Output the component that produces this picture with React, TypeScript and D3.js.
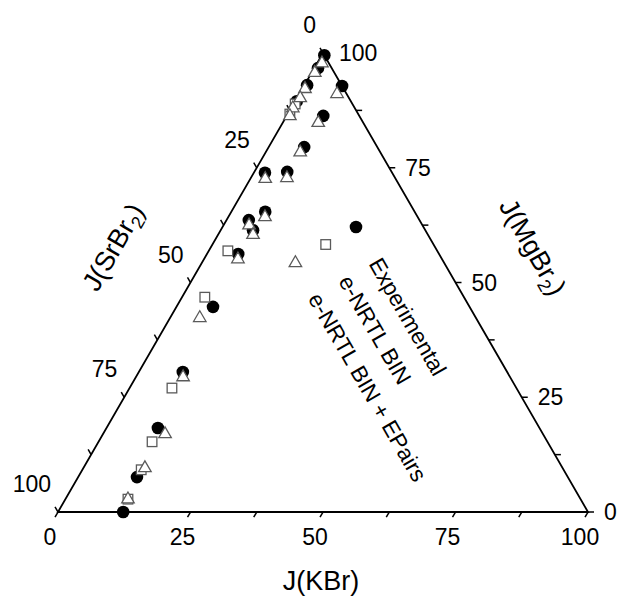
import React from 'react';
import * as d3 from 'd3';

// ternary points as [J(KBr), J(MgBr2)]; J(SrBr2) = 100 - both
const experimental: [number, number][] = [
  [0.5, 99.5], [0.7, 96.7], [0.5, 93.0], [0.3, 89.5], [7.2, 92.8], [6.9, 86.3],
  [6.7, 79.5], [6.2, 74.1], [2.1, 73.9], [6.4, 65.4], [4.2, 63.6], [6.1, 61.4],
  [5.9, 56.2], [6.9, 44.7], [8.3, 30.5], [9.7, 18.3], [11.1, 7.6], [12.3, 0],
];
const nrtlBin: [number, number][] = [
  [0.3, 88.9], [0.4, 86.7], [3.6, 56.9], [4.3, 46.8], [8.0, 27.0], [10.1, 15.3],
  [11.1, 9.2], [11.8, 2.8],
];
const nrtlEPairs: [number, number][] = [
  [0.8, 98.0], [0.5, 95.9], [0.4, 92.4], [0.5, 90.4], [0.2, 88.2], [0.5, 86.5],
  [7.0, 91.3], [6.6, 85.0], [6.4, 78.6], [6.7, 73.0], [2.7, 72.8], [6.8, 64.5],
  [4.7, 62.7], [6.5, 60.6], [6.3, 55.3], [5.5, 42.5], [8.8, 29.6], [11.6, 17.2],
  [11.5, 9.8], [11.7, 3.0],
];
const tickValues = d3.range(0, 100.01, 12.5);
const labelValues = [0, 25, 50, 75, 100];
const legendNames = ['Experimental', 'e-NRTL BIN', 'e-NRTL BIN + EPairs'];

const W = 619;
const H = 598;
const left = 58;
const base = 512;
const side = d3.scaleLinear().domain([0, 100]).range([0, 530]);
const h = Math.sqrt(3) / 2;

const toXY = (k: number, m: number): [number, number] => [
  left + side(k + m / 2),
  base - side(m) * h,
];

const FONT = 'Liberation Sans, Arial, Helvetica, sans-serif';
const grey = '#5a5a5a';
const tickLen = 6;

const triPath = (s: number) => {
  const r = s / Math.sqrt(3);
  return `M0,${-r}L${s / 2},${r / 2}L${-s / 2},${r / 2}Z`;
};

function Marker({ kind }: { kind: number }) {
  if (kind === 0) return <circle r={6.3} fill="#000" />;
  if (kind === 1)
    return <rect x={-4.8} y={-4.8} width={9.6} height={9.6} fill="#fff" stroke={grey} strokeWidth={1.3} />;
  return <path d={triPath(12.5)} transform="translate(0,1)" fill="#fff" stroke={grey} strokeWidth={1.3} />;
}

export default function App() {
  const top = toXY(0, 100);
  const bl = toXY(0, 0);
  const br = toXY(100, 0);

  const ticks: JSX.Element[] = [];
  tickValues.forEach((v, i) => {
    const [bx, by] = toXY(v, 0);
    ticks.push(<line key={`b${i}`} x1={bx} y1={by} x2={bx - tickLen * 0.5} y2={by + tickLen * h} />);
    const [rx, ry] = toXY(100 - v, v);
    ticks.push(<line key={`r${i}`} x1={rx} y1={ry} x2={rx + tickLen} y2={ry} />);
    const [lx, ly] = toXY(0, 100 - v);
    ticks.push(<line key={`l${i}`} x1={lx} y1={ly} x2={lx - tickLen * 0.5} y2={ly - tickLen * h} />);
  });

  const series = [experimental, nrtlBin, nrtlEPairs];

  return (
    <svg width={W} height={H} style={{ position: 'absolute', left: 0, top: 0, background: '#fff' }}
      fontFamily={FONT}>
      <rect width={W} height={H} fill="#fff" />
      <path d={`M${bl[0]},${bl[1]}L${br[0]},${br[1]}L${top[0]},${top[1]}Z`}
        fill="none" stroke="#000" strokeWidth={1.8} strokeLinejoin="miter" />
      <g stroke="#000" strokeWidth={1.5}>{ticks}</g>

      <g fontSize={23} fill="#000">
        {labelValues.map((v) => {
          const [bx, by] = toXY(v, 0);
          return <text key={`bl${v}`} x={bx - 8} y={by + 33} textAnchor="middle">{v}</text>;
        })}
        {labelValues.map((v) => {
          const [rx, ry] = toXY(100 - v, v);
          return <text key={`rl${v}`} x={rx + 16} y={ry + 8} textAnchor="start">{v}</text>;
        })}
        {labelValues.map((v) => {
          const [lx, ly] = toXY(0, 100 - v);
          return <text key={`ll${v}`} x={lx - 7} y={ly - 20} textAnchor="end">{v}</text>;
        })}
      </g>

      <g fontSize={27} fill="#000">
        <text x={321} y={590} textAnchor="middle">J(KBr)</text>
        <text transform="translate(113,247) rotate(-60)" textAnchor="middle" dy="0.35em">
          J(SrBr<tspan fontSize={18} dy="6">2</tspan><tspan dy="-6">)</tspan>
        </text>
        <text transform="translate(533,247) rotate(60)" textAnchor="middle" dy="0.35em">
          J(MgBr<tspan fontSize={18} dy="6">2</tspan><tspan dy="-6">)</tspan>
        </text>
      </g>

      {series.map((pts, si) => (
        <g key={`s${si}`}>
          {pts.map(([k, m], i) => {
            const [x, y] = toXY(k, m);
            return (
              <g key={i} transform={`translate(${x},${y})`}>
                <Marker kind={si} />
              </g>
            );
          })}
        </g>
      ))}

      {legendNames.map((name, i) => (
        <g key={name} transform={`translate(${356 - 30.3 * i},${227 + 17.5 * i}) rotate(60)`}>
          <g transform="rotate(-60)"><Marker kind={i} /></g>
          <text x={38} dy="0.35em" fontSize={22.5}>{name}</text>
        </g>
      ))}
    </svg>
  );
}
